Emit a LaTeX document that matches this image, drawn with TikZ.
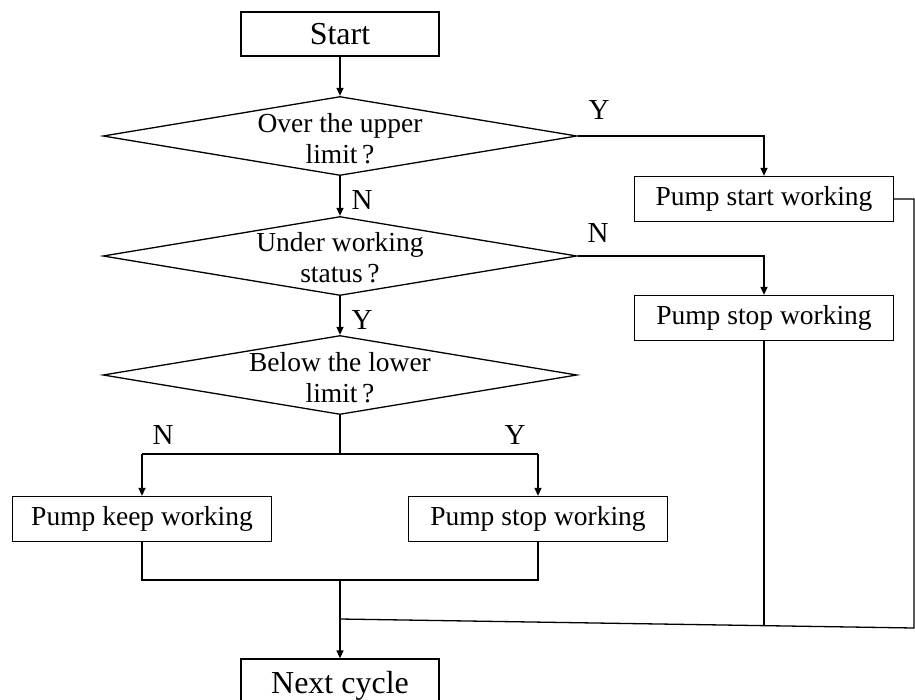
\documentclass[tikz,border=0pt]{standalone}
\usepackage{fontspec}
\setmainfont{Liberation Serif}
\usetikzlibrary{shapes.geometric,arrows.meta}
\begin{document}
\begin{tikzpicture}[x=1pt,y=-1pt,line width=1.3pt,
  actbox/.style={draw,rectangle,minimum width=259pt,minimum height=45pt,inner sep=0pt,font=\fontsize{27.5}{31}\selectfont},
  termbox/.style={draw,rectangle,minimum width=198pt,minimum height=44pt,inner sep=0pt,font=\fontsize{32}{36}\selectfont},
  decbox/.style={draw,diamond,minimum width=474pt,minimum height=79pt,inner sep=0pt},
  dtext/.style={align=center,inner sep=0pt,font=\fontsize{27.5}{31}\selectfont},
  yn/.style={inner sep=0pt,font=\fontsize{29}{30}\selectfont},
  arr/.style={-{Triangle[length=8pt,width=7pt]}}]
\clip (0,0) rectangle (915,699);
\node[termbox] (start) at (340,34) {Start};
\node[decbox] (d1) at (340,136) {};
\node[dtext] (t1) at (340,139) {Over the upper\\limit\,?};
\node[decbox] (d2) at (340,256) {};
\node[dtext] (t2) at (340,258) {Under working\\status\,?};
\node[decbox] (d3) at (340,375) {};
\node[dtext] (t3) at (340,378) {Below the lower\\limit\,?};
\node[actbox] (b1) at (764,199) {Pump start working};
\node[actbox] (b2) at (764,318) {Pump stop working};
\node[actbox] (b3) at (142,519) {Pump keep working};
\node[actbox] (b4) at (538,519) {Pump stop working};
\node[termbox,minimum height=54pt] (next) at (340,686) {Next cycle};
\node[yn] (y1) at (599,110) {Y};
\node[yn] (n1) at (362,200) {N};
\node[yn] (n2) at (598,233) {N};
\node[yn] (y2) at (362,320) {Y};
\node[yn] (n3) at (163,435) {N};
\node[yn] (y3) at (515,435) {Y};
\coordinate (split) at (340,454);
\coordinate (sl) at (142,454);
\coordinate (sr) at (538,454);
\coordinate (jl) at (142,580);
\coordinate (jr) at (538,580);
\coordinate (jm) at (340,580);
\coordinate (mj) at (340,619);
\coordinate (redge) at (914,199);
\coordinate (rend) at (914,628);
\coordinate (mid) at (764,625.6);
\draw[arr] (start.south) -- (d1.north);
\draw[arr] (d1.south) -- (d2.north);
\draw[arr] (d2.south) -- (d3.north);
\draw[arr] (d1.east) -| (b1.north);
\draw[arr] (d2.east) -| (b2.north);
\draw (d3.south) -- (split);
\draw (sl) -- (sr);
\draw[arr] (sl) -- (b3.north);
\draw[arr] (sr) -- (b4.north);
\draw (b3.south) -- (jl) -- (jr) -- (b4.south);
\draw[arr] (jm) -- (next.north);
\draw (b1.east) -- (redge) -- (rend) -- (mj);
\draw (b2.south) -- (mid);
\end{tikzpicture}
\end{document}
